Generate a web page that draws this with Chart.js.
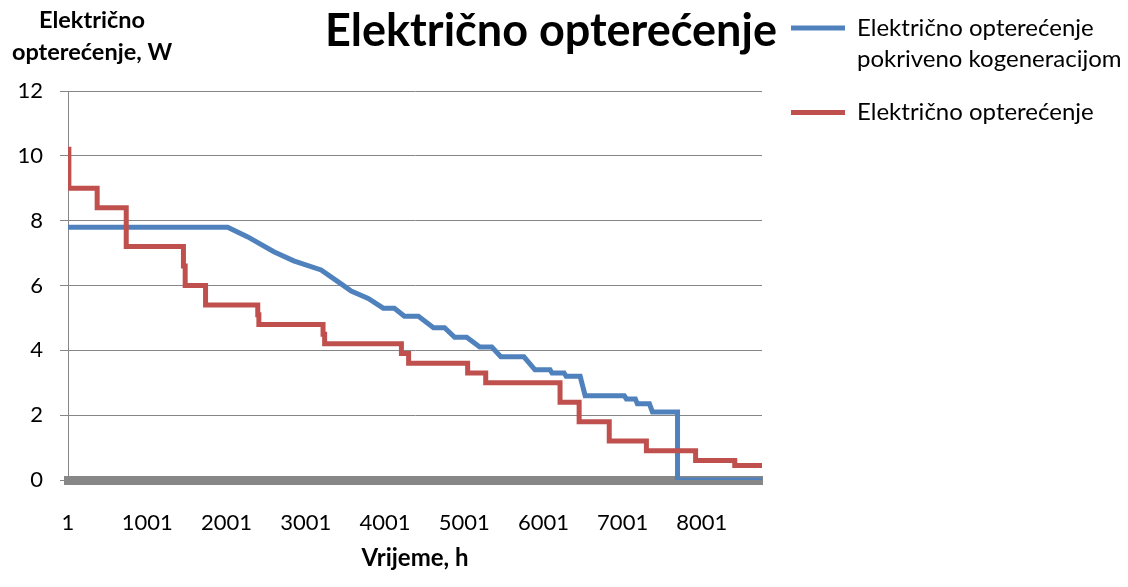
<!DOCTYPE html>
<html>
<head>
<meta charset="utf-8">
<script src="https://cdn.jsdelivr.net/npm/chart.js@4"></script>
<style>
body { margin: 0; background: #fff; }
</style>
</head>
<body>
<canvas id="chart" width="1128" height="587"></canvas>
<script>
// series: hour where a corner is, and load in W
var chartTitle = "Električno opterećenje";
var yTitle = ["Električno", "opterećenje, W"];
var xTitle = "Vrijeme, h";
var seriesNames = [["Električno opterećenje", "pokriveno kogeneracijom"], "Električno opterećenje"];

var xTicks = [1, 1001, 2001, 3001, 4001, 5001, 6001, 7001, 8001];
var yTicks = [0, 2, 4, 6, 8, 10, 12];

// covered by cogeneration (corners of the polyline)
var blueHours = [1, 2016, 2270, 2599, 2850, 3195, 3448, 3575, 3790, 3980, 4120, 4247, 4424, 4614, 4754, 4881, 5033, 5198, 5350, 5464, 5755, 5895, 6085, 6110, 6262, 6288, 6465, 6528, 7022, 7048, 7162, 7187, 7339, 7377, 7694, 7694, 8760];
var blueLoad = [7.8, 7.8, 7.5, 7.04, 6.76, 6.48, 6.05, 5.83, 5.6, 5.3, 5.3, 5.05, 5.05, 4.7, 4.7, 4.4, 4.4, 4.1, 4.1, 3.8, 3.8, 3.4, 3.4, 3.3, 3.3, 3.2, 3.2, 2.6, 2.6, 2.5, 2.5, 2.35, 2.35, 2.1, 2.1, 0, 0];

// total load (hour where each step starts, and its value)
var redHours = [1, 12, 369, 736, 1458, 1480, 1737, 2396, 2410, 3220, 3240, 4209, 4300, 5045, 5273, 6211, 6452, 6832, 7301, 7922, 8416, 8760];
var redLoad = [10.2, 9.0, 8.4, 7.2, 6.6, 6.0, 5.4, 5.1, 4.8, 4.5, 4.2, 3.9, 3.6, 3.3, 3.0, 2.4, 1.8, 1.2, 0.9, 0.6, 0.45, 0.45];

function points(xs, ys) {
	var out = [];
	for (var i = 0; i < xs.length; i++) {
		out.push({x: xs[i], y: ys[i]});
	}
	return out;
}

Chart.defaults.font.family = "Lato, 'Open Sans', sans-serif";
Chart.defaults.color = "#000";

// y title sits flat above the axis, and the legend goes up next to the title
var extras = {
	id: "extras",
	afterLayout: function(chart) {
		var lg = chart.legend;
		lg.left = 769;
		lg.right = 1128;
		lg.top = -6;
	},
	afterDraw: function(chart) {
		var ctx = chart.ctx;
		ctx.save();
		ctx.font = "bold 23.5px Lato";
		ctx.fillStyle = "#000";
		ctx.textAlign = "center";
		ctx.textBaseline = "middle";
		ctx.fillText(yTitle[0], 92, 20);
		ctx.fillText(yTitle[1], 92, 52);
		ctx.restore();
	}
};

var ctx = document.getElementById("chart").getContext("2d");
var chart = new Chart(ctx, {
	type: "line",
	data: {
		datasets: [
			{
				label: seriesNames[0],
				data: points(blueHours, blueLoad),
				borderColor: "#4F81BD",
				backgroundColor: "#4F81BD",
				borderWidth: 5,
				pointRadius: 0,
				tension: 0,
				borderCapStyle: "round",
				order: 1
			},
			{
				label: seriesNames[1],
				data: points(redHours, redLoad),
				borderColor: "#C0504D",
				backgroundColor: "#C0504D",
				borderWidth: 5,
				pointRadius: 0,
				stepped: "before",
				borderCapStyle: "round",
				order: 0
			}
		]
	},
	options: {
		responsive: false,
		animation: false,
		devicePixelRatio: 1,
		layout: {padding: {left: 0, right: 26, top: 0, bottom: 0}},
		plugins: {
			title: {
				display: true,
				text: chartTitle,
				font: {size: 45, weight: "bold"},
				color: "#000",
				padding: {top: 4, bottom: 33}
			},
			legend: {
				position: "right",
				align: "start",
				maxWidth: 340,
				labels: {
					usePointStyle: true,
					pointStyle: "line",
					pointStyleWidth: 54,
					font: {size: 24, lineHeight: 1.3},
					color: "#000",
					padding: 22,
					sort: function(a, b) { return a.datasetIndex - b.datasetIndex; }
				}
			},
			tooltip: {enabled: false}
		},
		scales: {
			x: {
				type: "linear",
				min: 1,
				max: 8760,
				afterBuildTicks: function(axis) {
					axis.ticks = xTicks.map(function(v) { return {value: v}; });
				},
				afterFit: function(axis) { axis.height = 107; },
				grid: {display: false, drawTicks: false},
				border: {display: true, color: "#878787", width: 9},
				ticks: {
					font: {size: 22},
					padding: 30,
					maxRotation: 0,
					autoSkip: false,
					callback: function(v) { return String(v); }
				},
				title: {
					display: true,
					text: xTitle,
					font: {size: 24, weight: "bold"},
					padding: {top: 0, bottom: 14}
				}
			},
			y: {
				min: 0,
				max: 12,
				afterBuildTicks: function(axis) {
					axis.ticks = yTicks.map(function(v) { return {value: v}; });
				},
				afterFit: function(axis) { axis.width = 68; },
				grid: {color: "#868686", lineWidth: 1, tickLength: 8},
				border: {color: "#868686", width: 1},
				ticks: {font: {size: 22}, padding: 17}
			}
		}
	},
	plugins: [extras]
});
</script>
</body>
</html>
